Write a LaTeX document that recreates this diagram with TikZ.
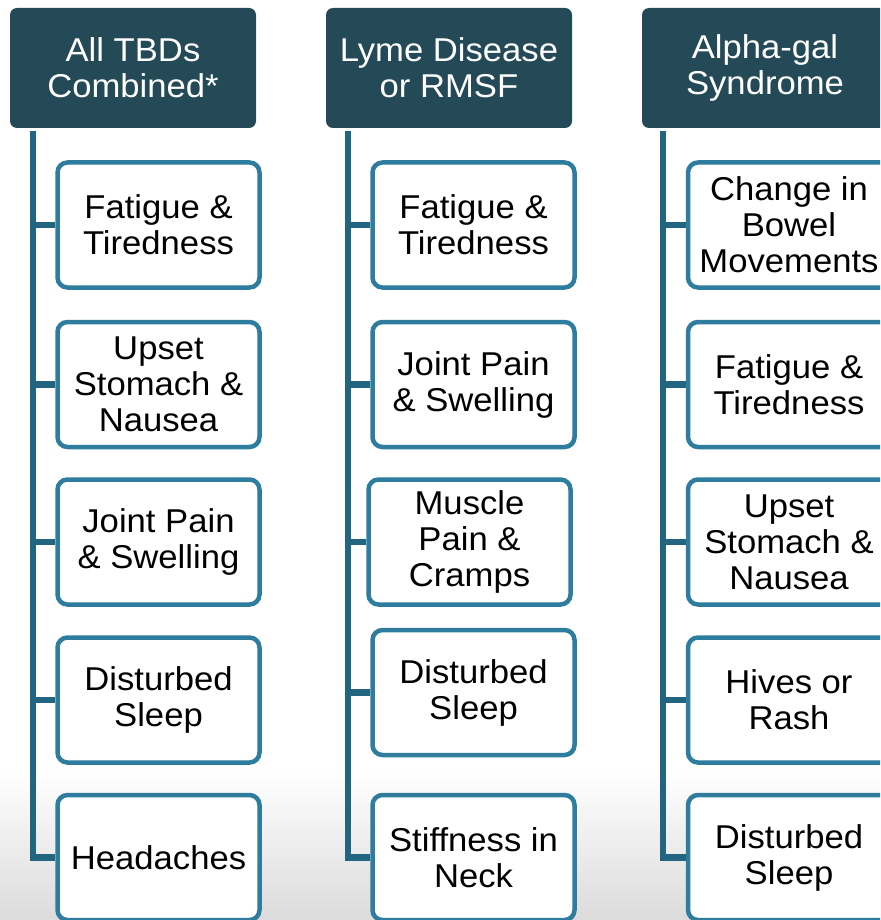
\documentclass[tikz,border=0pt]{standalone}
\usepackage{fontspec}
\setmainfont{Liberation Sans}[FakeStretch=1.05]
\usetikzlibrary{backgrounds}
\definecolor{hdr}{RGB}{36,73,87}
\definecolor{connc}{RGB}{34,101,128}
\definecolor{bord}{RGB}{46,125,158}
\tikzset{
  hdrbox/.style={rectangle, rounded corners=7pt, fill=hdr, text=white,
    minimum width=246pt, minimum height=120pt, align=center, inner sep=0pt,
    font=\fontsize{33}{36}\selectfont},
  symbox/.style={rectangle, rounded corners=10pt, draw=bord, line width=4.5pt,
    fill=white, minimum width=202pt, minimum height=125pt, align=center,
    inner sep=0pt, font=\fontsize{33}{36}\selectfont},
  connline/.style={draw=connc, line width=6.5pt}
}
\begin{document}
\begin{tikzpicture}[x=1pt,y=-1pt]
\clip (0,0) rectangle (880,920);
\begin{scope}[on background layer]
\fill[white] (0,0) rectangle (880,920);
\shade[top color=white, bottom color=black!14] (0,770) rectangle (880,920);
\end{scope}

% headers
\node[hdrbox] (h1) at (133,68) {All TBDs\\Combined*};
\node[hdrbox] (h2) at (449,68) {Lyme Disease\\or RMSF};
\node[hdrbox] (h3) at (765,68) {Alpha-gal\\Syndrome};

% line tops
\coordinate (t1) at (33,131);
\coordinate (t2) at (348,131);
\coordinate (t3) at (663,131);

% column 1
\node[symbox] (a1) at (158.5,225) {Fatigue \&\\Tiredness};
\node[symbox] (a2) at (158.5,384.5) {Upset\\Stomach \&\\Nausea};
\node[symbox] (a3) at (158.5,542) {Joint Pain\\\& Swelling};
\node[symbox] (a4) at (158.5,700) {Disturbed\\Sleep};
\node[symbox] (a5) at (158.5,857.5) {Headaches};

% column 2
\node[symbox] (b1) at (473.5,225) {Fatigue \&\\Tiredness};
\node[symbox] (b2) at (473.5,384.5) {Joint Pain\\\& Swelling};
\node[symbox] (b3) at (469.5,542) {Muscle\\Pain \&\\Cramps};
\node[symbox] (b4) at (473.5,692.5) {Disturbed\\Sleep};
\node[symbox] (b5) at (473.5,857.5) {Stiffness in\\Neck};

% column 3
\node[symbox] (c1) at (789,225) {Change in\\Bowel\\Movements};
\node[symbox] (c2) at (789,384.5) {Fatigue \&\\Tiredness};
\node[symbox] (c3) at (789,542) {Upset\\Stomach \&\\Nausea};
\node[symbox] (c4) at (789,700) {Hives or\\Rash};
\node[symbox] (c5) at (789,857.5) {Disturbed\\Sleep};

% connectors
\begin{scope}[on background layer]
\draw[connline] (t1) |- (a5.west);
\foreach \n in {a1,a2,a3,a4} \draw[connline] (t1 |- \n.west) -- (\n.west);
\draw[connline] (t2) |- (b5.west);
\foreach \n in {b1,b2,b3,b4} \draw[connline] (t2 |- \n.west) -- (\n.west);
\draw[connline] (t3) |- (c5.west);
\foreach \n in {c1,c2,c3,c4} \draw[connline] (t3 |- \n.west) -- (\n.west);
\end{scope}
\end{tikzpicture}
\end{document}
